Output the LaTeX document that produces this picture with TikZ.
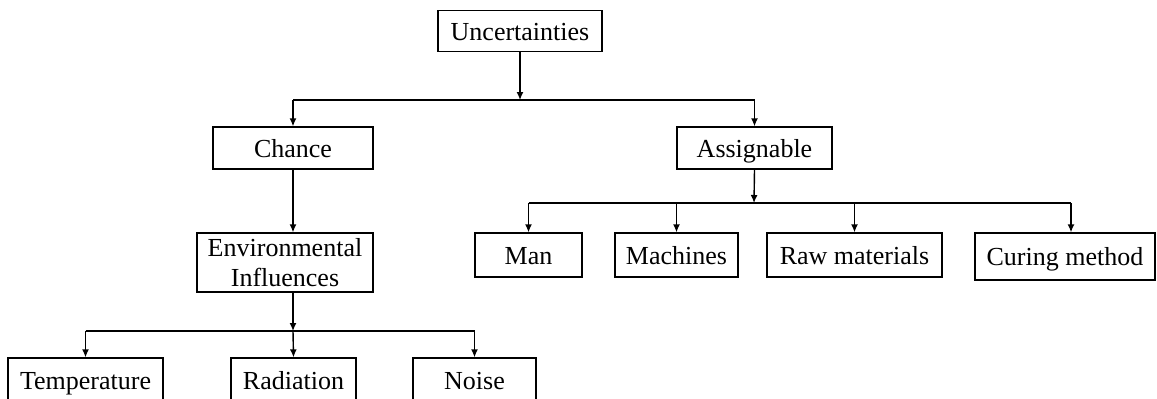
\documentclass[tikz,border=0pt]{standalone}
\usepackage{fontspec}
\setmainfont{Liberation Serif}
\usetikzlibrary{arrows.meta}
\begin{document}
\begin{tikzpicture}[x=1pt,y=-1pt,
    frame/.style={draw,line width=1.3pt,inner sep=0pt,minimum height=42pt,
      font=\fontsize{26}{30}\selectfont,align=center},
    box/.style={frame,text height=18pt,text depth=0pt},
    link/.style={line width=1.4pt,-{Latex[length=8pt,width=7pt]}},
    bar/.style={line width=1.4pt}]
  \useasboundingbox (0,0) rectangle (1157,399);
  \draw
    (520,31) node[box,minimum width=164pt,minimum height=41pt] (unc){Uncertainties}
    (293,148) node[box,minimum width=160pt] (chance){Chance}
    (754.5,148) node[box,minimum width=155pt] (assign){Assignable}
    (285,262.5) node[frame,minimum width=176pt,minimum height=59pt] (env){Environmental\\Influences}
    (528.5,255) node[box,minimum width=107pt,minimum height=44pt] (man){Man}
    (676.5,255) node[box,minimum width=123pt,minimum height=44pt] (mach){Machines}
    (854.5,255) node[box,minimum width=175pt,minimum height=44pt] (raw){Raw materials}
    (1065,256.5) node[box,minimum width=180pt,minimum height=47pt] (cur){Curing method}
    (85.5,380) node[box,minimum width=155pt,minimum height=44pt] (temp){Temperature}
    (293.5,380) node[box,minimum width=125pt,minimum height=44pt] (rad){Radiation}
    (474.5,380) node[box,minimum width=123pt,minimum height=44pt] (noise){Noise};
  \coordinate (tbar) at (520.7,100);
  \coordinate (abar) at (754,203);
  \coordinate (ebar) at (293,331);
  \coordinate (cdrop) at (1071,203);
  % first level
  \draw[link] (unc.south) -- (unc.south |- tbar);
  \draw[bar] (chance.north |- tbar) -- (assign.north |- tbar);
  \draw[link] (chance.north |- tbar) -- (chance.north);
  \draw[link] (assign.north |- tbar) -- (assign.north);
  % chance side
  \draw[link] (chance.south) -- (chance.south |- env.north);
  \draw[link] (env.south -| ebar) -- (ebar);
  \draw[bar] (temp.north |- ebar) -- (noise.north |- ebar);
  \draw[link] (temp.north |- ebar) -- (temp.north);
  \draw[link] (ebar) -- (rad.north);
  \draw[link] (noise.north |- ebar) -- (noise.north);
  % assignable side
  \draw[link] (assign.south) -- (abar);
  \draw[bar] (man.north |- abar) -- (cdrop);
  \draw[link] (man.north |- abar) -- (man.north);
  \draw[link] (mach.north |- abar) -- (mach.north);
  \draw[link] (raw.north |- abar) -- (raw.north);
  \draw[link] (cdrop) -- (cdrop |- cur.north);
\end{tikzpicture}
\end{document}
